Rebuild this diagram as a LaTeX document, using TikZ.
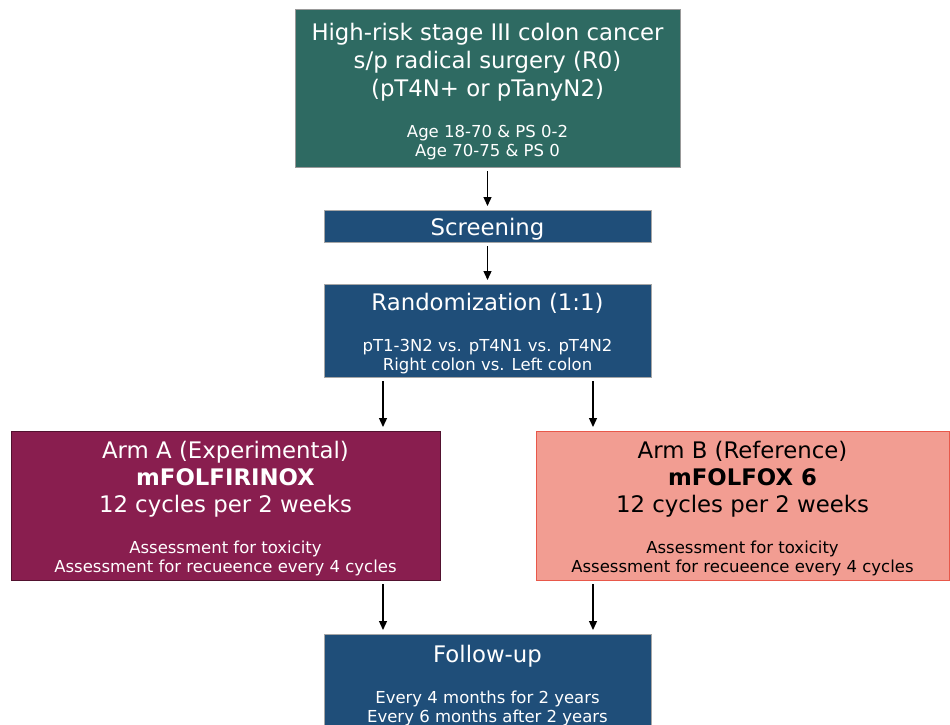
\documentclass[tikz,border=0pt]{standalone}
\usepackage{fontspec}
\setmainfont{DejaVu Sans}
\usetikzlibrary{arrows.meta}
\definecolor{stagegreen}{RGB}{46,106,98}
\definecolor{trialblue}{RGB}{31,78,121}
\definecolor{armared}{RGB}{137,30,79}
\definecolor{armbpink}{RGB}{242,157,146}
\definecolor{armbline}{RGB}{232,88,74}
\newcommand{\subtxt}{\fontsize{16.5}{19.5}\selectfont}
\newcommand{\toppad}{\rule{0pt}{24pt}}
\tikzset{
basebox/.style={rectangle, align=center, inner sep=0pt, outer sep=0pt, line width=0.8pt,
  font=\fontsize{22.8}{28}\selectfont},
stagebox/.style={basebox, fill=stagegreen, draw=gray!80, text=white},
trialbox/.style={basebox, fill=trialblue, draw=gray!70, text=white},
armabox/.style={basebox, fill=armared, draw=armared!60!black, text=white},
armbbox/.style={basebox, fill=armbpink, draw=armbline, text=black},
flow/.style={-{Triangle[length=9pt,width=8pt]}, line width=1.3pt, shorten <=4pt, shorten >=4pt}
}

\begin{document}
\begin{tikzpicture}[x=1pt, y=-1pt]
\useasboundingbox (0,0) rectangle (950,725);
\node[stagebox, minimum width=385pt, minimum height=158pt] (stage) at (487.5,88)
  {\toppad High-risk stage III colon cancer\\ s/p radical surgery (R0)\\ (pT4N+ or pTanyN2)\\[13pt]
   \subtxt Age 18-70 \& PS 0-2\\[-9pt] \subtxt Age 70-75 \& PS 0};
\node[trialbox, minimum width=327pt, minimum height=32pt] (screen) at (487.5,226) {\toppad Screening};
\node[trialbox, minimum width=327pt, minimum height=93pt] (rand) at (487.5,330.5)
  {\toppad Randomization (1:1)\\[13pt]
   \subtxt pT1-3N2 vs. pT4N1 vs. pT4N2\\[-9pt] \subtxt Right colon vs. Left colon};
\node[armabox, minimum width=429pt, minimum height=149pt] (arma) at (225.5,505.5)
  {\toppad Arm A (Experimental)\\[-1pt] \textbf{mFOLFIRINOX}\\[-1pt] 12 cycles per 2 weeks\\[13pt]
   \subtxt Assessment for toxicity\\[-9pt] \subtxt Assessment for recueence every 4 cycles};
\node[armbbox, minimum width=413pt, minimum height=149pt] (armb) at (742.5,505.5)
  {\toppad Arm B (Reference)\\[-1pt] \textbf{mFOLFOX 6}\\[-1pt] 12 cycles per 2 weeks\\[13pt]
   \subtxt Assessment for toxicity\\[-9pt] \subtxt Assessment for recueence every 4 cycles};
\node[trialbox, minimum width=327pt, minimum height=96pt] (follow) at (487.5,682)
  {\toppad Follow-up\\[13pt]
   \subtxt Every 4 months for 2 years\\[-9pt] \subtxt Every 6 months after 2 years};
\draw[flow] (stage) -- (screen);
\draw[flow] (screen) -- (rand);
\draw[flow] ([xshift=59pt]rand.south west) -- ([xshift=59pt]rand.south west |- arma.north);
\draw[flow] ([xshift=-58pt]rand.south east) -- ([xshift=-58pt]rand.south east |- armb.north);
\draw[flow] ([xshift=59pt]follow.north west |- arma.south) -- ([xshift=59pt]follow.north west);
\draw[flow] ([xshift=-58pt]follow.north east |- armb.south) -- ([xshift=-58pt]follow.north east);
\end{tikzpicture}
\end{document}
